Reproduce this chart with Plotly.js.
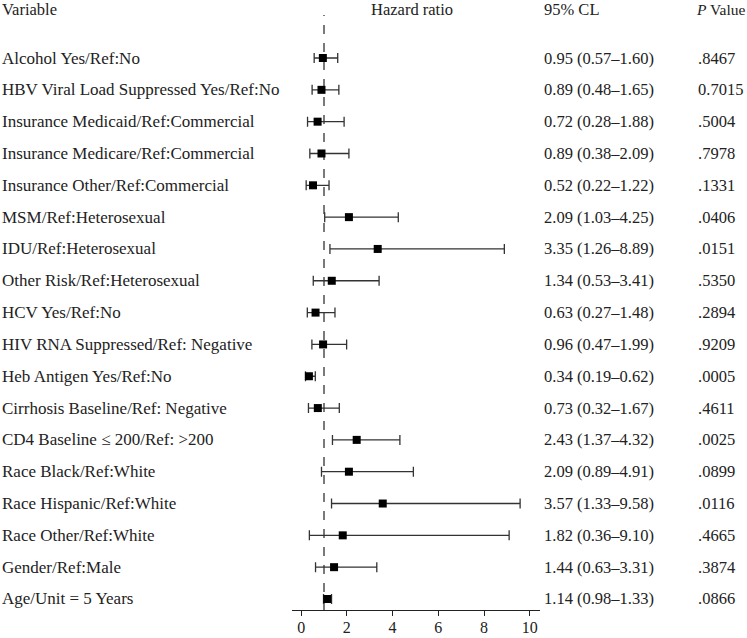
<!DOCTYPE html>
<html><head><meta charset="utf-8">
<script src="https://cdn.plot.ly/plotly-3.0.1.min.js"></script>
<style>body{margin:0;background:#fff}#chart{width:747px;height:638px}</style>
</head><body><div id="chart"></div>
<script>
const variables = ["Alcohol Yes/Ref:No","HBV Viral Load Suppressed Yes/Ref:No","Insurance Medicaid/Ref:Commercial","Insurance Medicare/Ref:Commercial","Insurance Other/Ref:Commercial","MSM/Ref:Heterosexual","IDU/Ref:Heterosexual","Other Risk/Ref:Heterosexual","HCV Yes/Ref:No","HIV RNA Suppressed/Ref: Negative","Heb Antigen Yes/Ref:No","Cirrhosis Baseline/Ref: Negative","CD4 Baseline \u2264 200/Ref: >200","Race Black/Ref:White","Race Hispanic/Ref:White","Race Other/Ref:White","Gender/Ref:Male","Age/Unit = 5 Years"];
const hazardRatio = [0.95,0.89,0.72,0.89,0.52,2.09,3.35,1.34,0.63,0.96,0.34,0.73,2.43,2.09,3.57,1.82,1.44,1.14];
const lowerCL = [0.57,0.48,0.28,0.38,0.22,1.03,1.26,0.53,0.27,0.47,0.19,0.32,1.37,0.89,1.33,0.36,0.63,0.98];
const upperCL = [1.60,1.65,1.88,2.09,1.22,4.25,8.89,3.41,1.48,1.99,0.62,1.67,4.32,4.91,9.58,9.10,3.31,1.33];
const pValues = [".8467","0.7015",".5004",".7978",".1331",".0406",".0151",".5350",".2894",".9209",".0005",".4611",".0025",".0899",".0116",".4665",".3874",".0866"];
const xTicks = [0,2,4,6,8,10];

const L = 292, R = 540, T = 15, B = 610;
const FONT = "Liberation Serif, Times New Roman, serif";
const TXT = "#222";
const FS = 16.5;
const rows = variables.map((_, i) => i);
const ciText = hazardRatio.map((h, i) => h.toFixed(2) + " (" + lowerCL[i].toFixed(2) + "\u2013" + upperCL[i].toFixed(2) + ")");

const trace = {
  type: "scatter", mode: "markers",
  x: hazardRatio, y: rows,
  marker: {symbol: "square", size: 8, color: "#000"},
  error_x: {type: "data", symmetric: false,
    array: upperCL.map((u, i) => u - hazardRatio[i]),
    arrayminus: lowerCL.map((l, i) => hazardRatio[i] - l),
    color: "#333", thickness: 1.3, width: 5},
  hoverinfo: "skip", showlegend: false, cliponaxis: false
};

const ann = [];
const px = p => (p - L) / (R - L);
const pyHead = 1 + (T - 9) / (B - T);
const labFont = {family: FONT, size: 17, color: TXT};
rows.forEach(i => {
  ann.push({xref: "paper", yref: "y", x: px(0), y: i, text: variables[i], font: labFont, showarrow: false, xanchor: "left", yanchor: "middle"});
  ann.push({xref: "paper", yref: "y", x: px(542), y: i, text: ciText[i], showarrow: false, xanchor: "left", yanchor: "middle"});
  ann.push({xref: "paper", yref: "y", x: px(696), y: i, text: pValues[i], showarrow: false, xanchor: "left", yanchor: "middle"});
});
ann.push({xref: "paper", yref: "paper", x: px(0), y: pyHead, text: "Variable", showarrow: false, xanchor: "left", yanchor: "middle"});
ann.push({xref: "paper", yref: "paper", x: px(369), y: pyHead, text: "Hazard ratio", showarrow: false, xanchor: "left", yanchor: "middle"});
ann.push({xref: "paper", yref: "paper", x: px(542), y: pyHead, text: "95% CL", showarrow: false, xanchor: "left", yanchor: "middle"});
ann.push({xref: "paper", yref: "paper", x: px(694), y: pyHead, text: "<i>P</i> Value", font: {family: FONT, size: 15.5, color: TXT}, showarrow: false, xanchor: "left", yanchor: "middle"});

const layout = {
  width: 747, height: 638,
  margin: {l: L, r: 747 - R, t: T, b: 638 - B, pad: 0},
  paper_bgcolor: "#fff", plot_bgcolor: "#fff",
  font: {family: FONT, size: FS, color: TXT},
  xaxis: {range: [-0.4, 10.45], tickvals: xTicks,
    showline: true, linecolor: "#222", linewidth: 1.2, ticks: "outside", ticklen: 5, tickcolor: "#222",
    ticklabelstandoff: -2,
    showgrid: false, zeroline: false, tickfont: {family: FONT, size: 16, color: TXT}},
  yaxis: {range: [17.346, -1.352], showticklabels: false, showgrid: false, zeroline: false, showline: false, ticks: ""},
  shapes: [{type: "line", xref: "x", yref: "paper", x0: 1, x1: 1, y0: 0, y1: 1,
    line: {color: "#333", width: 1.3, dash: "dash"}, layer: "below"}],
  annotations: ann
};
Plotly.newPlot("chart", [trace], layout, {staticPlot: true, displayModeBar: false});
</script></body></html>
